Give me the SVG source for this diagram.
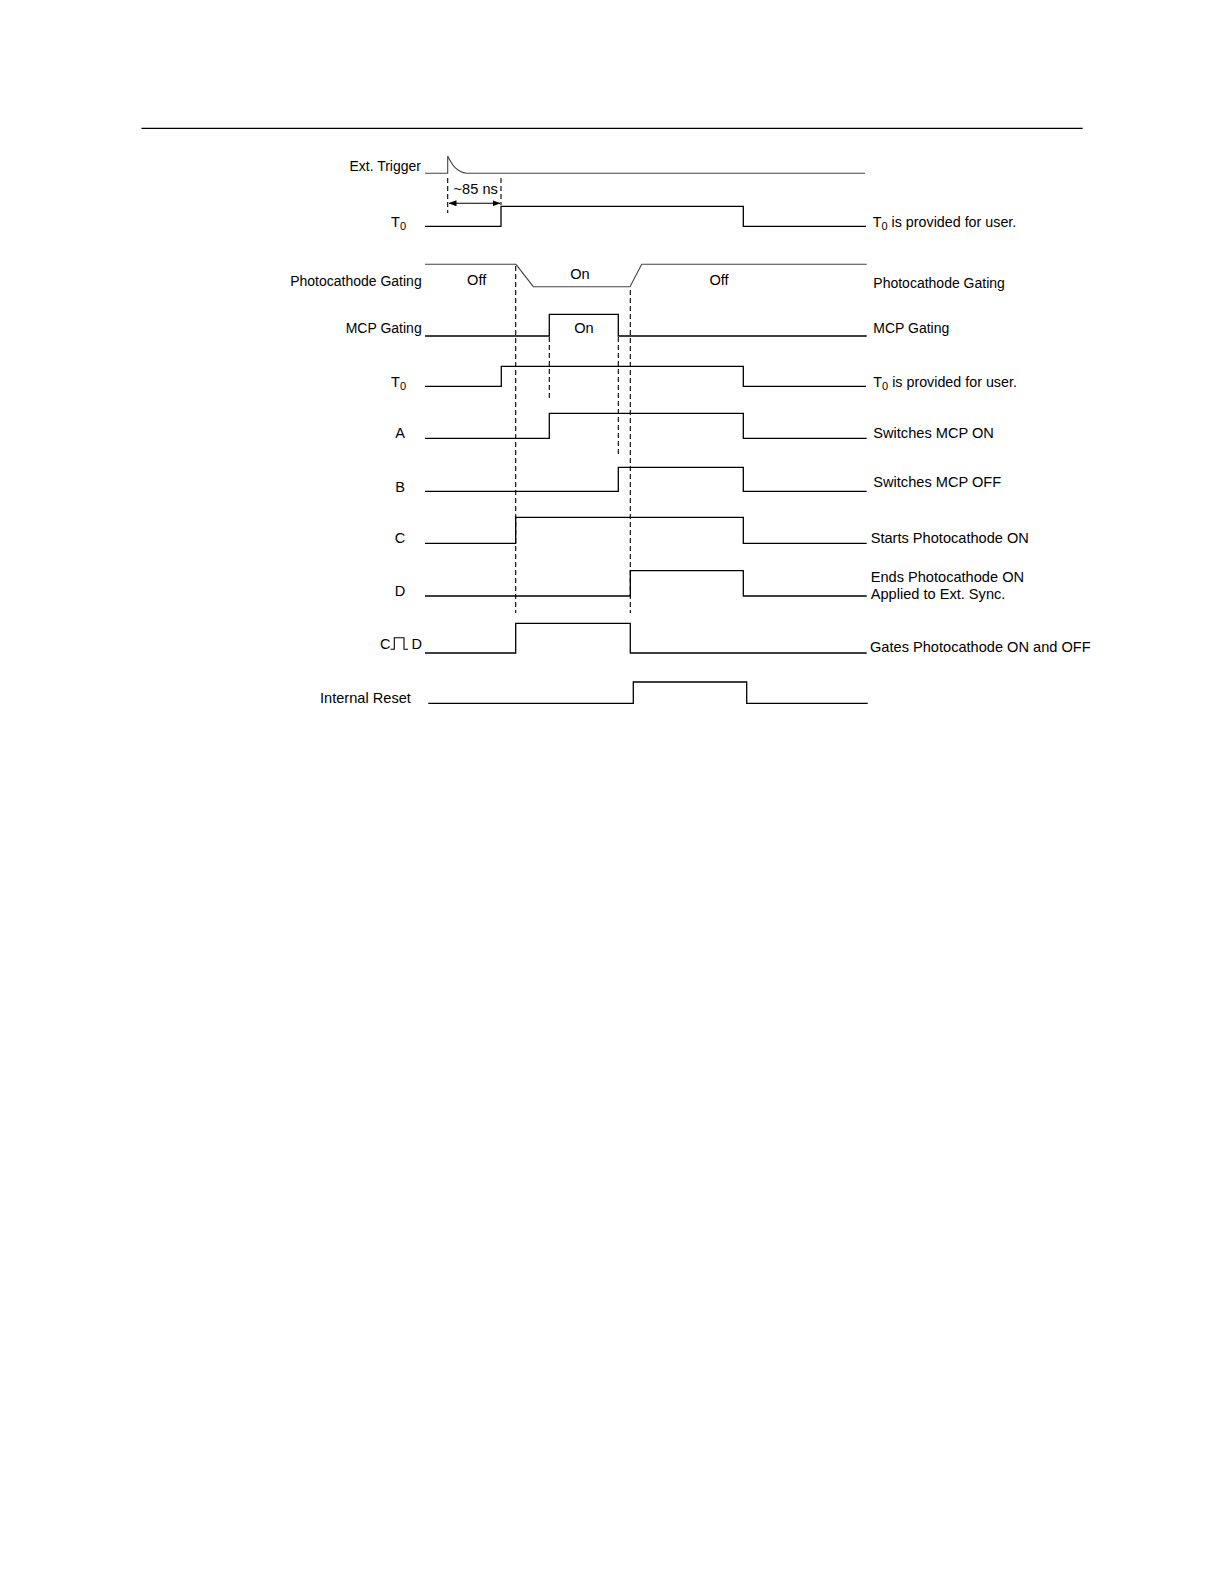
<svg xmlns="http://www.w3.org/2000/svg" width="1224" height="1584" viewBox="0 0 1224 1584">
<style>
text{font-family:"Liberation Sans",Arial,sans-serif;font-size:14.6px;fill:#000}
.s{font-size:14px}
.sub{font-size:11px}
.w{fill:none;stroke:#000;stroke-width:1.3}
.g{fill:none;stroke:#444;stroke-width:1.1}
.d{fill:none;stroke:#000;stroke-width:1.1;stroke-dasharray:5 3}
.e{text-anchor:end}
.m{text-anchor:middle}
</style>
<defs>
<marker id="ah" markerWidth="8" markerHeight="6" refX="7.5" refY="3" orient="auto-start-reverse" markerUnits="userSpaceOnUse">
<path d="M0,0 L8,3 L0,6 Z" fill="#000"/>
</marker>
</defs>
<rect width="1224" height="1584" fill="#fff"/>
<line x1="141.5" y1="128.3" x2="1082.7" y2="128.3" stroke="#000" stroke-width="1.2"/>

<g id="connectors">
<line class="d" x1="447.7" y1="178" x2="447.7" y2="213"/>
<line class="d" x1="501" y1="178" x2="501" y2="205"/>
<line x1="449" y1="203.3" x2="500" y2="203.3" stroke="#000" stroke-width="1.1" marker-start="url(#ah)" marker-end="url(#ah)"/>
<line class="d" x1="515.7" y1="266" x2="515.7" y2="613"/>
<line class="d" x1="549.3" y1="337" x2="549.3" y2="398"/>
<line class="d" x1="618.3" y1="337" x2="618.3" y2="454"/>
<line class="d" x1="630.3" y1="290" x2="630.3" y2="613"/>
</g>

<g id="ext-trigger">
<text class="e s" x="421" y="170.5">Ext. Trigger</text>
<path class="g" d="M425,173.3 H447.7 V156 C452,165 457,172.5 466.7,173.3 H865"/>
<text class="m" x="475.7" y="194.3">~85 ns</text>
</g>

<g id="t0-a">
<text x="391" y="227">T<tspan class="sub" dy="3">0</tspan></text>
<path class="w" d="M425,226.3 H501 V206.3 H743.3 V226.3 H866"/>
<text x="872.7" y="227" style="font-size:14.3px">T<tspan class="sub" dy="3">0</tspan><tspan dy="-3"> is provided for user.</tspan></text>
</g>

<g id="photocathode-gating">
<text class="e s" x="421.7" y="285.5">Photocathode Gating</text>
<path class="g" d="M425,264.3 H516 L533.3,286.7 H630 L641.7,264.3 H866.7"/>
<text class="m" x="476.7" y="285">Off</text>
<text class="m" x="580" y="279">On</text>
<text class="m" x="719" y="285">Off</text>
<text class="s" x="873.3" y="288.3">Photocathode Gating</text>
</g>

<g id="mcp-gating">
<text class="e s" x="421.7" y="333">MCP Gating</text>
<path class="w" d="M425,336 H549.3 V314.3 H618.3 V336 H866.7"/>
<text class="m" x="584" y="333.3">On</text>
<text class="s" x="873.3" y="333.3">MCP Gating</text>
</g>

<g id="t0-b">
<text x="391" y="386.5">T<tspan class="sub" dy="3">0</tspan></text>
<path class="w" d="M425,386.3 H501.3 V366.3 H743.3 V386.3 H866"/>
<text x="873.3" y="386.5" style="font-size:14.3px">T<tspan class="sub" dy="3">0</tspan><tspan dy="-3"> is provided for user.</tspan></text>
</g>

<g id="sig-a">
<text class="m" x="400" y="438.3">A</text>
<path class="w" d="M425,438.3 H549.3 V413.3 H743.3 V438.3 H866.7"/>
<text x="873.3" y="438.3">Switches MCP ON</text>
</g>

<g id="sig-b">
<text class="m" x="400" y="491.7">B</text>
<path class="w" d="M425,491.3 H618.3 V467.3 H743.3 V491.3 H866.7"/>
<text x="873.3" y="487">Switches MCP OFF</text>
</g>

<g id="sig-c">
<text class="m" x="400" y="543.3">C</text>
<path class="w" d="M425,543.3 H515.7 V517.3 H743.3 V543.3 H866.7"/>
<text x="870.7" y="543.3">Starts Photocathode ON</text>
</g>

<g id="sig-d">
<text class="m" x="400" y="596">D</text>
<path class="w" d="M425,596 H630.3 V570.7 H743.3 V596 H866.7"/>
<text x="870.7" y="581.7">Ends Photocathode ON</text>
<text x="870.7" y="599.3">Applied to Ext. Sync.</text>
</g>

<g id="sig-c-d">
<text x="380" y="649.3">C</text>
<path fill="none" stroke="#000" stroke-width="1.1" d="M390.5,649.3 H394.3 V637.7 H404 V649.3 H408"/>
<text x="411.5" y="649.3">D</text>
<path class="w" d="M425,653 H515.7 V623.3 H630.3 V653 H866.7"/>
<text x="870" y="651.7">Gates Photocathode ON and OFF</text>
</g>

<g id="internal-reset">
<text x="320" y="703.3">Internal Reset</text>
<path class="w" d="M428.3,703.3 H633.3 V682 H746.7 V703.3 H867.7"/>
</g>
</svg>
